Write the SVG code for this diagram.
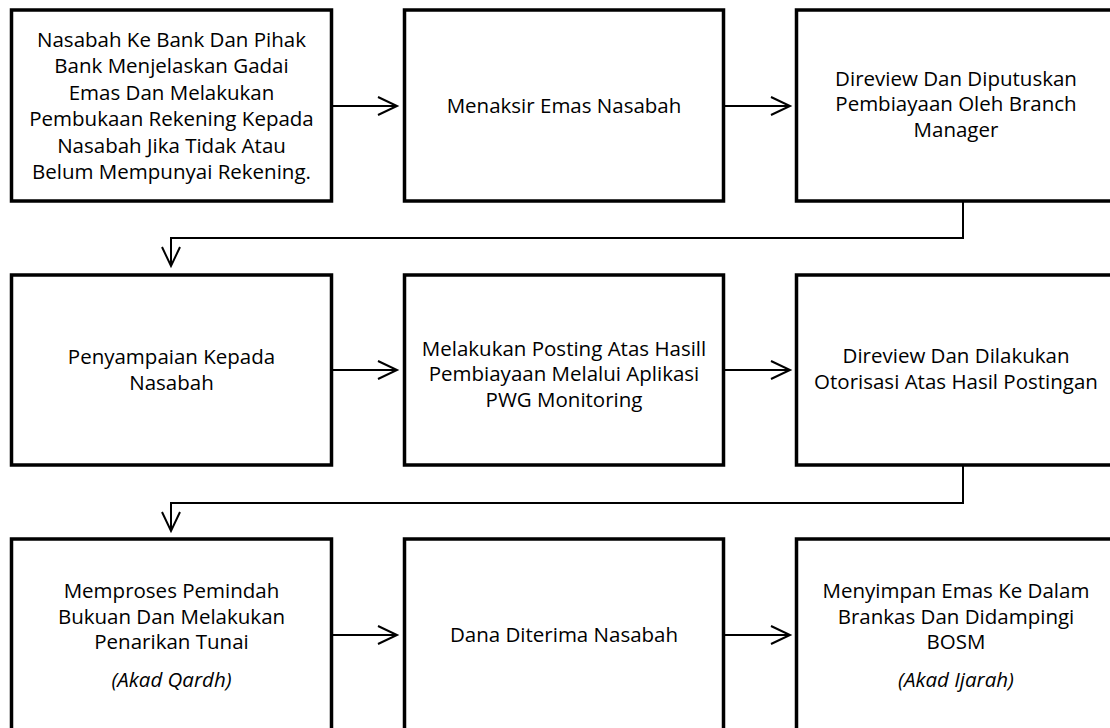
<svg xmlns="http://www.w3.org/2000/svg" width="1110" height="728" viewBox="0 0 1110 728">
  <style>
    .box { fill: #ffffff; stroke: #000000; stroke-width: 3.5; }
    .conn { fill: none; stroke: #000000; stroke-width: 2; }
    .t { font-family: "Open Sans", "Noto Sans", sans-serif; font-size: 20.5px; fill: #000000; text-anchor: middle; }
    .it { font-style: italic; }
  </style>
  <defs>
    <marker id="arr" markerUnits="userSpaceOnUse" markerWidth="24" markerHeight="24" refX="19" refY="10" orient="auto" viewBox="0 0 24 24" overflow="visible">
      <path d="M0,1 L19,10 L0,19" fill="none" stroke="#000000" stroke-width="2"/>
    </marker>
  </defs>
  <rect width="1110" height="728" fill="#ffffff"/>

  <g id="connectors">
    <line class="conn" x1="333" y1="106" x2="397" y2="106" marker-end="url(#arr)"/>
    <line class="conn" x1="725" y1="106" x2="790" y2="106" marker-end="url(#arr)"/>
    <path class="conn" d="M963,201 V238 H171 V266" marker-end="url(#arr)"/>
    <line class="conn" x1="333" y1="370" x2="397" y2="370" marker-end="url(#arr)"/>
    <line class="conn" x1="725" y1="370" x2="790" y2="370" marker-end="url(#arr)"/>
    <path class="conn" d="M963,465 V503 H171 V531" marker-end="url(#arr)"/>
    <line class="conn" x1="333" y1="635" x2="397" y2="635" marker-end="url(#arr)"/>
    <line class="conn" x1="725" y1="635" x2="790" y2="635" marker-end="url(#arr)"/>
  </g>

  <g id="n1">
    <rect class="box" x="11.5" y="10" width="320" height="191"/>
    <text class="t" x="171.5" y="47">Nasabah Ke Bank Dan Pihak</text>
    <text class="t" x="171.5" y="73">Bank Menjelaskan Gadai</text>
    <text class="t" x="171.5" y="99.5">Emas Dan Melakukan</text>
    <text class="t" x="171.5" y="126">Pembukaan Rekening Kepada</text>
    <text class="t" x="171.5" y="152.5">Nasabah Jika Tidak Atau</text>
    <text class="t" x="171.5" y="179">Belum Mempunyai Rekening.</text>
  </g>

  <g id="n2">
    <rect class="box" x="404.5" y="10" width="319" height="191"/>
    <text class="t" x="564" y="112.5">Menaksir Emas Nasabah</text>
  </g>

  <g id="n3">
    <rect class="box" x="796.5" y="10" width="319" height="191"/>
    <text class="t" x="956" y="85.5">Direview Dan Diputuskan</text>
    <text class="t" x="956" y="111">Pembiayaan Oleh Branch</text>
    <text class="t" x="956" y="136.5">Manager</text>
  </g>

  <g id="n4">
    <rect class="box" x="11.5" y="275" width="320" height="190"/>
    <text class="t" x="171.5" y="364">Penyampaian Kepada</text>
    <text class="t" x="171.5" y="389.5">Nasabah</text>
  </g>

  <g id="n5">
    <rect class="box" x="404.5" y="275" width="319" height="190"/>
    <text class="t" x="564" y="355.5">Melakukan Posting Atas Hasill</text>
    <text class="t" x="564" y="381">Pembiayaan Melalui Aplikasi</text>
    <text class="t" x="564" y="406.5">PWG Monitoring</text>
  </g>

  <g id="n6">
    <rect class="box" x="796.5" y="275" width="319" height="190"/>
    <text class="t" x="956" y="363">Direview Dan Dilakukan</text>
    <text class="t" x="956" y="388.5">Otorisasi Atas Hasil Postingan</text>
  </g>

  <g id="n7">
    <rect class="box" x="11.5" y="539" width="320" height="191"/>
    <text class="t" x="171.5" y="598">Memproses Pemindah</text>
    <text class="t" x="171.5" y="623.5">Bukuan Dan Melakukan</text>
    <text class="t" x="171.5" y="649">Penarikan Tunai</text>
    <text class="t it" x="171.5" y="686.5">(Akad Qardh)</text>
  </g>

  <g id="n8">
    <rect class="box" x="404.5" y="539" width="319" height="191"/>
    <text class="t" x="564" y="642">Dana Diterima Nasabah</text>
  </g>

  <g id="n9">
    <rect class="box" x="796.5" y="539" width="319" height="191"/>
    <text class="t" x="956" y="598">Menyimpan Emas Ke Dalam</text>
    <text class="t" x="956" y="623.5">Brankas Dan Didampingi</text>
    <text class="t" x="956" y="649">BOSM</text>
    <text class="t it" x="956" y="686.5">(Akad Ijarah)</text>
  </g>
</svg>
